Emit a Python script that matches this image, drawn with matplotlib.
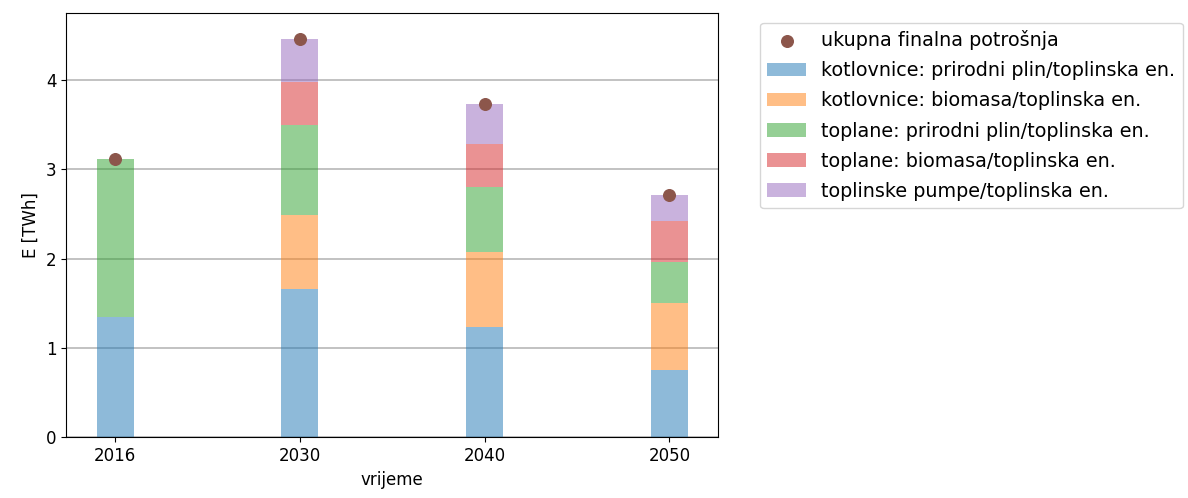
import numpy as np
import matplotlib
matplotlib.use('Agg')
import matplotlib.pyplot as plt

# Years and stacked components (TWh)
years = ['2016', '2030', '2040', '2050']
kotl_plin = [1.35, 1.66, 1.24, 0.76]
kotl_bio = [0.00, 0.83, 0.83, 0.74]
topl_plin = [1.77, 1.01, 0.73, 0.46]
topl_bio = [0.00, 0.48, 0.48, 0.46]
pumpe = [0.00, 0.48, 0.45, 0.29]
ukupno = [3.12, 4.46, 3.73, 2.71]

labels = ['kotlovnice: prirodni plin/toplinska en.',
          'kotlovnice: biomasa/toplinska en.',
          'toplane: prirodni plin/toplinska en.',
          'toplane: biomasa/toplinska en.',
          'toplinske pumpe/toplinska en.']
colors = ['tab:blue', 'tab:orange', 'tab:green', 'tab:red', 'tab:purple']

plt.rcParams['font.family'] = ['DejaVu Sans']
plt.rcParams['font.size'] = 12

fig = plt.figure(figsize=(11.88, 4.98), dpi=100)
ax = fig.add_axes([0.0556, 0.1215, 0.5484, 0.8525])

x = np.arange(len(years))
bottom = np.zeros(len(years))
for vals, lab, col in zip([kotl_plin, kotl_bio, topl_plin, topl_bio, pumpe], labels, colors):
    ax.bar(x, vals, width=0.2, bottom=bottom, color=col, alpha=0.5, label=lab, zorder=2)
    bottom += np.array(vals)

ax.scatter(x, ukupno, color='tab:brown', s=70, zorder=3, label='ukupna finalna potrošnja')

ax.set_xticks(x)
ax.set_xticklabels(years)
ax.set_xlim(-0.265, 3.26)
ax.set_ylim(0, 4.75)
ax.set_yticks([0, 1, 2, 3, 4])
ax.yaxis.grid(True, color='#b8b8b8', linewidth=1.2, zorder=0)
ax.set_axisbelow(True)
ax.set_xlabel('vrijeme')
ax.set_ylabel('E [TWh]')

ax.legend(bbox_to_anchor=(1.05, 1), loc='upper left', fontsize=13.8,
          borderaxespad=0.5, labelspacing=0.58)

fig.savefig('out.png', dpi=100)
